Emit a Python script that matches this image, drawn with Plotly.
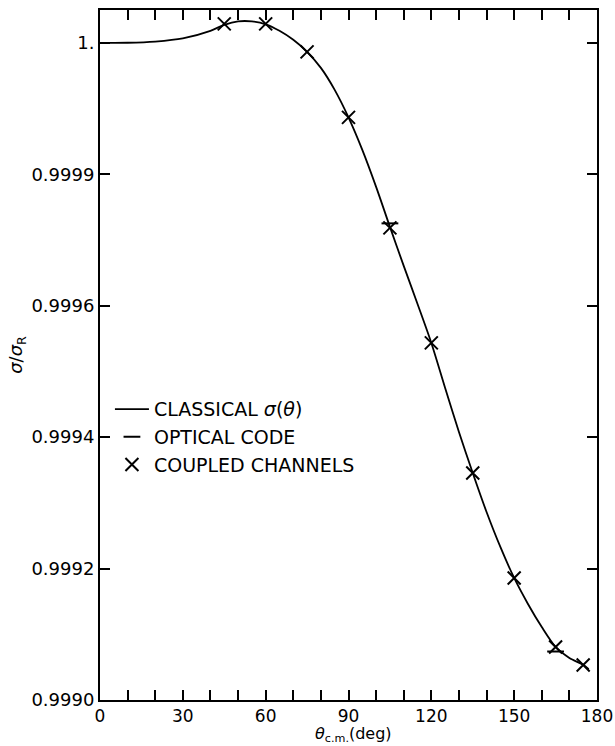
import plotly.graph_objects as go

# Classical sigma(theta) curve samples
theta_curve = [0, 10, 20, 30, 40, 45, 50, 55, 60, 65, 70, 75, 80, 85, 90, 95, 100,
               105, 110, 115, 120, 125, 130, 135, 140, 145, 150, 155, 160, 165,
               170, 175, 177]
sigma_curve = [1.0000000, 1.0000002, 1.0000020, 1.0000068, 1.0000183, 1.0000274,
               1.0000327, 1.0000327, 1.0000282, 1.0000183, 1.0000046, 0.9999863,
               0.9999619, 0.9999285, 0.9998866, 0.9998371, 0.9997808, 0.9997199,
               0.9996606, 0.9996027, 0.9995434, 0.9994749, 0.9994079, 0.9993455,
               0.9992861, 0.9992329, 0.9991857, 0.9991461, 0.9991110, 0.9990807,
               0.9990640, 0.9990535, 0.9990470]

# Coupled channels points
theta_cc = [45, 60, 75, 90, 105, 120, 135, 150, 165, 175]
sigma_cc = [1.0000289, 1.0000289, 0.9999863, 0.9998866, 0.9997184, 0.9995434,
            0.9993455, 0.9991857, 0.9990807, 0.9990533]

# Optical code points
theta_opt = [105, 165]
sigma_opt = [0.9997253, 0.9990738]

x_tickvals = [0, 30, 60, 90, 120, 150, 180]
x_ticktext = ["0", "30", "60", "90", "120", "150", "180"]
y_tickvals = [0.9990, 0.9992, 0.9994, 0.9996, 0.9998, 1.0000]
y_ticktext = ["0.9990", "0.9992", "0.9994", "0.9996", "0.9999", "1."]
x_title = "<i>θ</i><sub>c.m.</sub>(deg)"
y_title = "<i>σ</i>/<i>σ</i><sub>R</sub>"

FONT = "DejaVu Sans"
BLACK = "black"

fig = go.Figure()
fig.add_trace(go.Scatter(
    x=theta_curve, y=sigma_curve, mode="lines", name="CLASSICAL <i>σ</i>(<i>θ</i>)",
    line=dict(color=BLACK, width=1.8, shape="spline", smoothing=0.8),
))
fig.add_trace(go.Scatter(
    x=theta_opt, y=sigma_opt, mode="markers", name="OPTICAL CODE",
    marker=dict(symbol="line-ew", size=12, line=dict(color=BLACK, width=2)),
))
fig.add_trace(go.Scatter(
    x=theta_cc, y=sigma_cc, mode="markers", name="COUPLED CHANNELS",
    marker=dict(symbol="x-thin", size=13, line=dict(color=BLACK, width=2)),
))

fig.update_layout(
    width=615, height=746,
    margin=dict(l=100, r=18, t=10, b=46),
    paper_bgcolor="white", plot_bgcolor="white",
    font=dict(family=FONT, size=18, color=BLACK),
    showlegend=True,
    legend=dict(
        x=0.02, y=0.449, xanchor="left", yanchor="top",
        bgcolor="rgba(0,0,0,0)", borderwidth=0,
        font=dict(family=FONT, size=19, color=BLACK),
        itemwidth=34, tracegroupgap=0,
    ),
    xaxis=dict(
        range=[0, 180], tickmode="array", tickvals=x_tickvals, ticktext=x_ticktext,
        ticks="inside", ticklen=10, tickwidth=2, tickcolor=BLACK,
        minor=dict(dtick=10, tick0=0, ticks="inside", ticklen=10, tickwidth=2,
                   tickcolor=BLACK, showgrid=False),
        showline=True, linecolor=BLACK, linewidth=2, mirror="ticks",
        showgrid=False, zeroline=False, ticklabelstandoff=0, automargin=False,
        tickfont=dict(family=FONT, size=17, color=BLACK),
    ),
    yaxis=dict(
        range=[0.9990, 1.00005], tickmode="array", tickvals=y_tickvals,
        ticktext=y_ticktext, automargin=False,
        ticks="inside", ticklen=10, tickwidth=2, tickcolor=BLACK,
        showline=True, linecolor=BLACK, linewidth=2, mirror="ticks",
        showgrid=False, zeroline=False,
        title=dict(text=y_title, standoff=4,
                   font=dict(family=FONT, size=18, color=BLACK)),
        tickfont=dict(family=FONT, size=18, color=BLACK),
    ),
    annotations=[dict(
        text=x_title, xref="paper", yref="paper", x=0.51, y=0,
        xanchor="center", yanchor="top", yshift=-23, showarrow=False,
        borderpad=0, font=dict(family=FONT, size=16, color=BLACK),
    )],
)

fig.write_html("out.html")
